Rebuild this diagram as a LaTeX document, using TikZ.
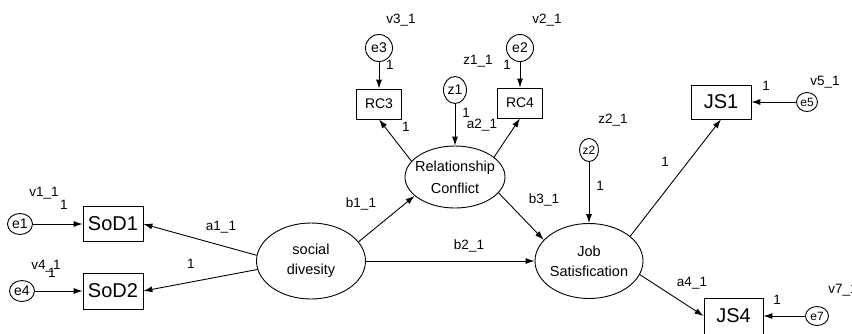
\documentclass[tikz,border=0pt]{standalone}
\usepackage{fontspec}
\setmainfont{Liberation Sans}
\usetikzlibrary{shapes.geometric,arrows.meta}
\begin{document}
\begin{tikzpicture}[x=1pt,y=-1pt,
  every node/.style={inner sep=0pt},
  obs/.style={draw, rectangle, line width=0.8pt, font=\fontsize{20}{20}\selectfont},
  obssm/.style={draw, rectangle, line width=0.8pt, font=\fontsize{14}{14}\selectfont},
  lat/.style={draw, ellipse, line width=0.9pt, align=center, inner xsep=-20pt, inner ysep=-12pt,
    font=\fontsize{14.5}{20}\selectfont},
  err/.style={draw, ellipse, line width=0.9pt, inner sep=-2pt, font=\fontsize{14}{14}\selectfont},
  errsm/.style={err, font=\fontsize{12}{12}\selectfont},
  lbl/.style={font=\fontsize{13.5}{13.5}\selectfont},
  conn/.style={draw, line width=0.9pt, -{Latex[length=9pt,width=6pt]}}
]
\useasboundingbox (0,0) rectangle (852,333);
\fill[white] (0,0) rectangle (852,333);

% observed indicators and error terms
\node[err, minimum width=25pt, minimum height=21pt] (e1) at (20,224) {e1};
\node[obs, minimum width=60pt, minimum height=35pt] (SoD1) at (113,224) {SoD1};
\node[err, minimum width=25pt, minimum height=21pt] (e4) at (22,291) {e4};
\node[obs, minimum width=60pt, minimum height=36pt] (SoD2) at (113,291) {SoD2};
\node[obssm, minimum width=45pt, minimum height=30pt] (rc3) at (379,104) {RC3};
\node[obssm, minimum width=45pt, minimum height=30pt] (rc4) at (520,103) {RC4};
\node[err, minimum width=27pt, minimum height=27pt] (e3) at (379,48) {e3};
\node[err, minimum width=27pt, minimum height=27pt] (e2) at (520,48) {e2};
\node[err, minimum width=23pt, minimum height=27pt] (z1) at (455,90) {z1};
\node[errsm, minimum width=19pt, minimum height=23pt] (z2) at (589,150) {z2};
\node[obs, minimum width=60pt, minimum height=34pt] (js1) at (721,102) {JS1};
\node[errsm, minimum width=21pt, minimum height=19pt] (e5) at (807,102) {e5};
\node[obs, minimum width=59pt, minimum height=36pt] (js4) at (733.5,316) {JS4};
\node[errsm, minimum width=23pt, minimum height=19pt] (e7) at (817,316) {e7};

% latent constructs
\node[lat, minimum width=109pt, minimum height=76pt] (sd) at (311,261) {social\\divesity};
\node[lat, minimum width=100pt, minimum height=62pt, font=\fontsize{14.5}{22}\selectfont] (rc) at (455,177) {Relationship\\Conflict};
\node[lat, minimum width=108pt, minimum height=75pt] (js) at (589,261) {Job\\Satisfication};

% paths
\draw[conn] (e1) -- (SoD1);
\draw[conn] (e4) -- (SoD2);
\draw[conn] (sd.174) -- (SoD1.east);
\draw[conn] (sd.189) -- (SoD2.east);
\draw[conn] (sd.22) -- (rc.205);
\draw[conn] (sd) -- (js);
\draw[conn] (rc.340) -- (js.155);
\draw[conn] (rc.160) -- (rc3.south);
\draw[conn] (rc.27) -- (rc4.south);
\draw[conn] (e3) -- (rc3);
\draw[conn] (e2) -- (rc4);
\draw[conn] (z1) -- (rc);
\draw[conn] (z2) -- (js);
\draw[conn] (js.31) -- (js1.south);
\draw[conn] (js.345) -- (js4.west);
\draw[conn] (e5) -- (js1);
\draw[conn] (e7) -- (js4);

% parameter labels
\node[lbl] (lv1) at (44,193) {v1\_1};
\node[lbl] (lv1w) at (64,205) {1};
\node[lbl] (lv4) at (46,266) {v4\_1};
\node[lbl] (lv4w) at (52,273) {1};
\node[lbl] (la1) at (221,227) {a1\_1};
\node[lbl] (lsd2) at (191,264) {1};
\node[lbl] (lv3) at (401,20) {v3\_1};
\node[lbl] (le3) at (390,65) {1};
\node[lbl] (lv2) at (547,20) {v2\_1};
\node[lbl] (le2) at (507,65) {1};
\node[lbl] (lz1) at (478,61) {z1\_1};
\node[lbl] (lz1w) at (466,113) {1};
\node[lbl] (la2) at (482,125) {a2\_1};
\node[lbl] (lrc3) at (406,127) {1};
\node[lbl] (lb1) at (361,204) {b1\_1};
\node[lbl] (lb2) at (469,246) {b2\_1};
\node[lbl] (lb3) at (544,200) {b3\_1};
\node[lbl] (lz2) at (613,120) {z2\_1};
\node[lbl] (lz2w) at (600,186) {1};
\node[lbl] (ljs1) at (665,162) {1};
\node[lbl] (lv5) at (825,82) {v5\_1};
\node[lbl] (le5) at (766,86) {1};
\node[lbl] (la4) at (692,283) {a4\_1};
\node[lbl] (lv7) at (843,290) {v7\_1};
\node[lbl] (le7) at (777,300) {1};
\end{tikzpicture}
\end{document}
